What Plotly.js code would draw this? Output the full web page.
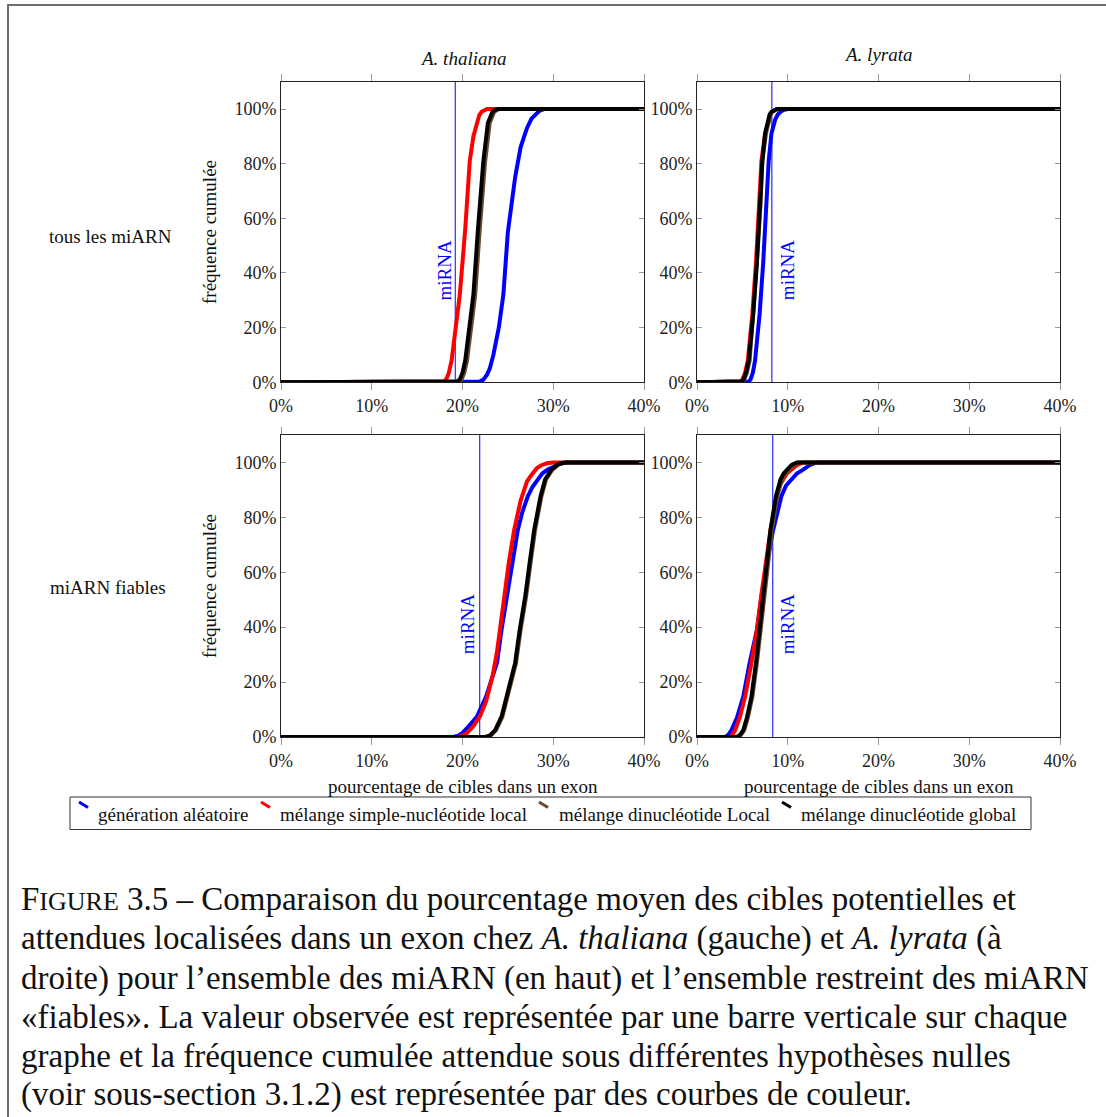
<!DOCTYPE html>
<html>
<head>
<meta charset="utf-8">
<script src="https://cdn.plot.ly/plotly-3.0.1.min.js"></script>
<style>html,body{margin:0;padding:0;background:#fff;}#chart{width:1106px;height:1117px;}</style>
</head>
<body>
<div id="chart"></div>
<script>
// ---------- data ----------
const seriesNames = ["génération aléatoire", "mélange simple-nucléotide local", "mélange dinucléotide Local", "mélange dinucléotide global"];
const speciesTitles = ["A. thaliana", "A. lyrata"];
const rowLabels = ["tous les miARN", "miARN fiables"];
const xTickVals = [0, 10, 20, 30, 40];
const xTickText = ["0%", "10%", "20%", "30%", "40%"];
const yTickVals = [0, 20, 40, 60, 80, 100];
const yTickText = ["0%", "20%", "40%", "60%", "80%", "100%"];
// observed miRNA value per panel (top-left, top-right, bottom-left, bottom-right)
const observed = [19.2, 8.25, 21.9, 8.35];

// Top-left: A. thaliana, all miRNA
const tlBlueX  = [0, 21.4, 21.9, 22.3, 22.7, 23.0, 23.4, 24.0, 24.5, 25.0, 25.4, 25.8, 26.4, 27.1, 27.6, 28.0, 28.5, 29.0, 40];
const tlBlueY  = [0, 0, 0.3, 1, 2.8, 5, 10, 20, 32, 55, 66, 75, 86, 93, 96.5, 98, 99.4, 100, 100];
const tlRedX   = [0, 17.5, 17.9, 18.2, 18.5, 18.8, 19.3, 19.7, 20.3, 20.8, 21.2, 21.6, 21.85, 22.1, 22.4, 22.7, 40];
const tlRedY   = [0, 0, 0.3, 1, 3.5, 8, 20, 32, 56, 81, 90, 95.6, 97.8, 99, 99.7, 100, 100];
const tlBrownX = [0, 19.2, 19.6, 19.9, 20.2, 20.5, 21.0, 21.4, 21.9, 22.5, 23.0, 23.25, 23.5, 23.8, 24.1, 40];
const tlBrownY = [0, 0, 0.3, 1, 3.5, 8, 20, 32, 56, 81, 95, 97.5, 99, 99.7, 100, 100];
const tlBlackX = [0, 19.0, 19.4, 19.7, 20.0, 20.3, 20.8, 21.2, 21.7, 22.3, 22.8, 23.05, 23.3, 23.6, 23.9, 40];
const tlBlackY = [0, 0, 0.3, 1, 3.5, 8, 20, 32, 56, 81, 95, 97.5, 99, 99.7, 100, 100];

// Top-right: A. lyrata, all miRNA
const trBlueX  = [0, 5.4, 5.7, 5.9, 6.15, 6.4, 6.9, 7.3, 7.6, 7.9, 8.2, 8.6, 8.9, 9.2, 9.6, 10.0, 40];
const trBlueY  = [0, 0, 0.3, 1, 3.5, 8, 25, 44, 65, 81, 91, 96, 98, 99, 99.7, 100, 100];
const trRedX   = [0, 4.5, 4.8, 5.0, 5.3, 5.6, 6.1, 6.5, 6.9, 7.1, 7.5, 7.9, 8.1, 8.3, 8.55, 8.8, 40];
const trRedY   = [0, 0, 0.3, 1, 3.5, 8, 25, 44, 65, 81, 91, 96, 98, 99, 99.7, 100, 100];
const trBrownX = [0, 4.7, 5.0, 5.2, 5.5, 5.8, 6.2, 6.6, 7.0, 7.2, 7.6, 7.9, 8.1, 8.3, 8.6, 8.9, 40];
const trBrownY = [0, 0, 0.3, 1, 3.5, 8, 25, 44, 65, 81, 91, 96, 98, 99, 99.7, 100, 100];
const trBlackX = [0, 4.6, 4.9, 5.1, 5.4, 5.7, 6.2, 6.6, 6.95, 7.2, 7.5, 7.8, 8.0, 8.2, 8.5, 8.8, 40];
const trBlackY = [0, 0, 0.3, 1, 3.5, 8, 25, 44, 65, 81, 91, 96, 98, 99, 99.7, 100, 100];

// Bottom-left: A. thaliana, reliable miRNA
const blBlueX  = [0, 19.0, 19.5, 20.0, 20.7, 21.6, 22.6, 23.3, 23.8, 24.3, 24.9, 25.5, 26.1, 26.6, 27.2, 27.7, 28.3, 28.8, 29.4, 30.3, 30.8, 31.3, 40];
const blBlueY  = [0, 0, 0.5, 1.5, 4, 7.4, 14.7, 22, 27, 39, 51, 63.5, 75.5, 82, 87.7, 91, 93.8, 96, 97.4, 99, 99.6, 100, 100];
const blRedX   = [0, 19.5, 20.0, 20.5, 21.2, 21.9, 22.6, 23.3, 23.8, 24.2, 24.6, 25.1, 25.7, 26.4, 27.1, 27.5, 27.8, 28.2, 28.7, 29.3, 30.0, 40];
const blRedY   = [0, 0, 0.5, 1.5, 4, 7.4, 13, 22, 31, 40, 51, 63.5, 75.5, 86, 93, 95, 96.5, 98, 99, 99.7, 100, 100];
const blBrownX = [0, 22.6, 23.1, 23.7, 24.4, 25.0, 25.9, 26.4, 27.0, 27.5, 28.0, 28.7, 29.2, 29.9, 30.6, 31.1, 31.6, 40];
const blBrownY = [0, 0, 0.5, 2.5, 7.4, 14.7, 27, 39, 51, 63.5, 75.5, 87.7, 93.8, 97.4, 99.3, 99.8, 100, 100];
const blBlackX = [0, 22.5, 23.0, 23.6, 24.3, 24.9, 25.8, 26.3, 26.9, 27.4, 27.9, 28.6, 29.1, 29.8, 30.5, 31.0, 31.5, 40];
const blBlackY = [0, 0, 0.5, 2.5, 7.4, 14.7, 27, 39, 51, 63.5, 75.5, 87.7, 93.8, 97.4, 99.3, 99.8, 100, 100];

// Bottom-right: A. lyrata, reliable miRNA
const brBlueX  = [0, 3.1, 3.45, 3.8, 4.4, 5.1, 5.8, 6.6, 7.1, 7.7, 8.4, 9.3, 9.8, 10.4, 11.0, 11.7, 12.4, 13.2, 40];
const brBlueY  = [0, 0, 0.8, 2.5, 7, 14.7, 27, 39, 51, 63.5, 75.5, 87.7, 91.5, 93.8, 96, 97.4, 99, 100, 100];
const brRedX   = [0, 3.6, 3.9, 4.2, 4.7, 5.3, 6.0, 6.6, 7.06, 7.6, 8.1, 8.8, 9.1, 9.5, 9.9, 10.4, 11.0, 11.7, 40];
const brRedY   = [0, 0, 0.8, 2.5, 7, 14.7, 27, 39, 51, 63.5, 75.5, 87.7, 91.5, 93.8, 96, 97.4, 99, 100, 100];
const brBrownX = [0, 4.5, 4.85, 5.2, 5.6, 6.1, 6.6, 7.0, 7.35, 7.85, 8.25, 8.85, 9.1, 9.35, 9.7, 10.1, 10.6, 11.2, 40];
const brBrownY = [0, 0, 0.8, 2.5, 7, 14.7, 27, 39, 51, 63.5, 75.5, 87.7, 91.5, 93.8, 96, 97.4, 99, 100, 100];
const brBlackX = [0, 4.4, 4.75, 5.1, 5.5, 6.0, 6.5, 6.9, 7.2, 7.7, 8.1, 8.7, 8.95, 9.2, 9.55, 9.9, 10.4, 11.0, 40];
const brBlackY = [0, 0, 0.8, 2.5, 7, 14.7, 27, 39, 51, 63.5, 75.5, 87.7, 91.5, 93.8, 96, 97.4, 99, 100, 100];

// ---------- drawing ----------
const W = 1106, H = 1117;
const px = v => v / W;
const py = v => 1 - v / H;
const colors = ["#0000ff", "#ff0000", "#6b4a2b", "#000000"];
const serif = '"Liberation Serif", "Times New Roman", serif';

const panelData = [
  [[tlBlueX, tlBlueY], [tlRedX, tlRedY], [tlBrownX, tlBrownY], [tlBlackX, tlBlackY]],
  [[trBlueX, trBlueY], [trRedX, trRedY], [trBrownX, trBrownY], [trBlackX, trBlackY]],
  [[blBlueX, blBlueY], [blRedX, blRedY], [blBrownX, blBrownY], [blBlackX, blBlackY]],
  [[brBlueX, brBlueY], [brRedX, brRedY], [brBrownX, brBrownY], [brBlackX, brBlackY]]
];

const traces = [];
panelData.forEach((series, p) => {
  const xa = p === 0 ? 'x' : 'x' + (p + 1);
  const ya = p === 0 ? 'y' : 'y' + (p + 1);
  // observed miRNA vertical line
  traces.push({
    x: [observed[p], observed[p]], y: [0, 110], xaxis: xa, yaxis: ya,
    mode: 'lines', line: {color: '#0000ff', width: 1}, showlegend: false, hoverinfo: 'skip'
  });
  series.forEach((s, i) => {
    traces.push({
      x: s[0], y: s[1], xaxis: xa, yaxis: ya, name: seriesNames[i],
      mode: 'lines', line: {color: colors[i], width: 4, shape: 'linear'},
      showlegend: false
    });
  });
});

const xDomL = [px(281), px(644)], xDomR = [px(697), px(1060)];
const yDomT = [py(382.3), py(81.7)], yDomB = [py(737), py(435)];

function xAxis(dom, anchor) {
  return {
    domain: dom, anchor: anchor, range: [0, 40], tickmode: 'array', tickvals: xTickVals, ticktext: xTickText,
    showline: true, linecolor: '#222', linewidth: 1, mirror: 'ticks',
    ticks: 'outside', ticklen: 7, tickcolor: '#999', tickwidth: 1,
    showgrid: false, zeroline: false,
    tickfont: {family: serif, size: 18, color: '#222'}
  };
}
function yAxis(dom, anchor) {
  return {
    domain: dom, anchor: anchor, range: [0, 110], tickmode: 'array', tickvals: yTickVals, ticktext: yTickText,
    showline: true, linecolor: '#222', linewidth: 1, mirror: 'ticks',
    ticks: 'inside', ticklen: 5, tickcolor: '#999', tickwidth: 1,
    showgrid: false, zeroline: false,
    tickfont: {family: serif, size: 18, color: '#222'}
  };
}

const annotations = [];
const shapes = [];
const txt = (text, x, y, opts) => Object.assign({
  text: text, x: x, y: y, xref: 'paper', yref: 'paper', showarrow: false,
  xanchor: 'center', yanchor: 'middle', font: {family: serif, size: 19, color: '#111'}
}, opts || {});

// panel titles
annotations.push(txt('<i>' + speciesTitles[0] + '</i>', px(462.5), py(58)));
annotations.push(txt('<i>' + speciesTitles[1] + '</i>', px(878.5), py(55)));
// row labels
annotations.push(txt(rowLabels[0], px(110), py(236)));
annotations.push(txt(rowLabels[1], px(108), py(587)));
// y axis titles
annotations.push(txt('fréquence cumulée', px(209), py(232), {textangle: -90}));
annotations.push(txt('fréquence cumulée', px(209), py(586), {textangle: -90}));
// x axis titles
annotations.push(txt('pourcentage de cibles dans un exon', px(462.5), py(786)));
annotations.push(txt('pourcentage de cibles dans un exon', px(878.5), py(786)));
// miRNA labels
const mirShift = [-11, 15, -12, 15];
const mirY = [41, 41, 41, 41];
observed.forEach((v, p) => {
  const xa = p === 0 ? 'x' : 'x' + (p + 1);
  const ya = p === 0 ? 'y' : 'y' + (p + 1);
  annotations.push({text: 'miRNA', x: v, y: mirY[p], xref: xa, yref: ya, showarrow: false,
    textangle: -90, xshift: mirShift[p], xanchor: 'center', yanchor: 'middle',
    font: {family: serif, size: 19, color: '#0000ff'}});
});

// legend box (manual, matching the reference layout)
shapes.push({type: 'rect', xref: 'paper', yref: 'paper', x0: px(70), x1: px(1031), y0: py(797), y1: py(829.5),
  line: {color: '#333', width: 1}, fillcolor: 'rgba(0,0,0,0)'});
const legIconX = [79, 261, 539, 782];
const legTextX = [96, 278, 557, 799];
seriesNames.forEach((n, i) => {
  shapes.push({type: 'line', xref: 'paper', yref: 'paper', x0: px(legIconX[i]), y0: py(802), x1: px(legIconX[i] + 9), y1: py(807.5),
    line: {color: colors[i], width: 3}});
  annotations.push(txt(n, px(legTextX[i]), py(814), {xanchor: 'left'}));
});

// outer frame
shapes.push({type: 'rect', xref: 'paper', yref: 'paper', x0: px(8), x1: px(1130), y0: py(1140), y1: py(5),
  line: {color: '#6e6e6e', width: 2}, fillcolor: 'rgba(0,0,0,0)', layer: 'below'});

// caption
const capFont = {family: serif, size: 33, color: '#111'};
const captionLines = [
  'F<span style="font-size:26px">IGURE</span> 3.5 – Comparaison du pourcentage moyen des cibles potentielles et',
  'attendues localisées dans un exon chez <i>A. thaliana</i> (gauche) et <i>A. lyrata</i> (à',
  'droite) pour l’ensemble des miARN (en haut) et l’ensemble restreint des miARN',
  '«fiables». La valeur observée est représentée par une barre verticale sur chaque',
  'graphe et la fréquence cumulée attendue sous différentes hypothèses nulles',
  '(voir sous-section 3.1.2) est représentée par des courbes de couleur.'
];
const capY = [899, 938.5, 978, 1017, 1056, 1094];
captionLines.forEach((l, i) => {
  annotations.push(txt(l, px(19), py(capY[i]), {xanchor: 'left', font: capFont}));
});

const layout = {
  width: W, height: H, margin: {l: 0, r: 0, t: 0, b: 0},
  paper_bgcolor: '#fff', plot_bgcolor: '#fff', showlegend: false,
  xaxis: xAxis(xDomL, 'y'), yaxis: yAxis(yDomT, 'x'),
  xaxis2: xAxis(xDomR, 'y2'), yaxis2: yAxis(yDomT, 'x2'),
  xaxis3: xAxis(xDomL, 'y3'), yaxis3: yAxis(yDomB, 'x3'),
  xaxis4: xAxis(xDomR, 'y4'), yaxis4: yAxis(yDomB, 'x4'),
  annotations: annotations, shapes: shapes
};

Plotly.newPlot('chart', traces, layout, {displayModeBar: false, staticPlot: true});
</script>
</body>
</html>
